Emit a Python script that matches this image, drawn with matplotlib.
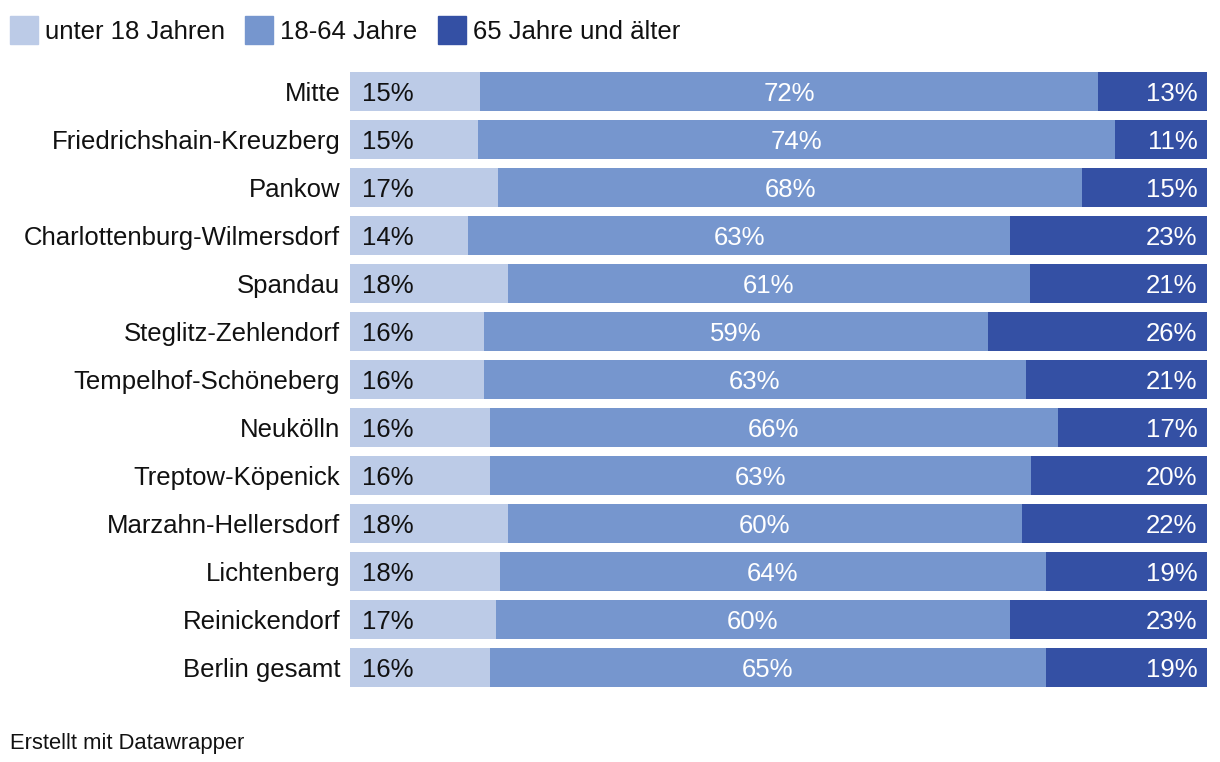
import matplotlib
matplotlib.use("Agg")
import matplotlib.pyplot as plt
from matplotlib.patches import Rectangle

plt.rcParams['font.family'] = ['Liberation Sans', 'DejaVu Sans']

districts = ["Mitte", "Friedrichshain-Kreuzberg", "Pankow", "Charlottenburg-Wilmersdorf",
             "Spandau", "Steglitz-Zehlendorf", "Tempelhof-Schöneberg", "Neukölln",
             "Treptow-Köpenick", "Marzahn-Hellersdorf", "Lichtenberg", "Reinickendorf",
             "Berlin gesamt"]
under18 = [15.2, 14.9, 17.3, 13.8, 18.4, 15.6, 15.6, 16.3, 16.3, 18.4, 17.5, 17.0, 16.3]
age18_64 = [72.1, 74.4, 68.1, 63.2, 60.9, 58.8, 63.3, 66.3, 63.2, 60.0, 63.7, 60.0, 64.9]
over65 = [12.7, 10.7, 14.6, 23.0, 20.7, 25.6, 21.1, 17.4, 20.5, 21.6, 18.8, 23.0, 18.8]
series_names = ["unter 18 Jahren", "18-64 Jahre", "65 Jahre und älter"]
colors = ["#bccbe7", "#7696ce", "#3450a4"]

W, H = 1220, 762
fig = plt.figure(figsize=(W / 100, H / 100), dpi=100)
ax = fig.add_axes([350 / W, 1 - 691.5 / H, (1207 - 350) / W, (691.5 - 67.5) / H])

n = len(districts)
ys = list(range(n))
h = 0.83
left = [0] * n
for vals, col in zip([under18, age18_64, over65], colors):
    ax.barh(ys, vals, left=left, height=h, color=col, edgecolor='none')
    left = [l + v for l, v in zip(left, vals)]

fs = 18.5
dy = -6.6  # points: put cap-height centre on bar centre
for i in range(n):
    a, b, c = under18[i], age18_64[i], over65[i]
    tot = a + b + c
    ax.annotate(f"{round(a)}%", (0, i), xytext=(8.5, dy), textcoords='offset points',
                ha='left', va='baseline', fontsize=fs, color='#111111')
    ax.annotate(f"{round(b)}%", (a + b / 2, i), xytext=(0, dy), textcoords='offset points',
                ha='center', va='baseline', fontsize=fs, color='white')
    ax.annotate(f"{round(c)}%", (tot, i), xytext=(-7, dy), textcoords='offset points',
                ha='right', va='baseline', fontsize=fs, color='white')
    ax.annotate(districts[i], (0, i), xytext=(-7, dy), textcoords='offset points',
                ha='right', va='baseline', fontsize=fs, color='#111111')

ax.set_xlim(0, max(u + m + o for u, m, o in zip(under18, age18_64, over65)))
ax.set_ylim(n - 0.5, -0.5)
ax.axis('off')

# legend
leg_x = [10, 245, 438]
for x, name, col in zip(leg_x, series_names, colors):
    fig.patches.append(Rectangle((x / W, 1 - 44 / H), 28 / W, 28 / H,
                                 transform=fig.transFigure, color=col, figure=fig))
    fig.text((x + 35) / W, 1 - 39.2 / H, name, ha='left', va='baseline', fontsize=fs, color='#111111')

fig.text(10 / W, 1 - 749 / H, "Erstellt mit Datawrapper", ha='left', va='baseline',
         fontsize=15.8, color='#111111')

fig.savefig("out.png", dpi=100, facecolor='white')
